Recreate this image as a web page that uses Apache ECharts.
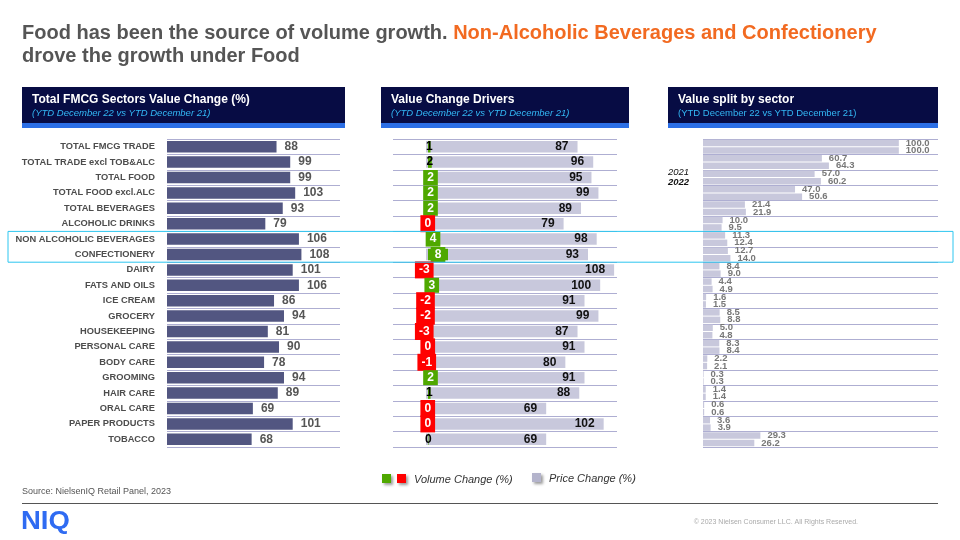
<!DOCTYPE html>
<html><head><meta charset="utf-8">
<script src="https://cdn.jsdelivr.net/npm/echarts@6/dist/echarts.min.js"></script>
<style>html,body{margin:0;padding:0;background:#fff}#c{width:960px;height:540px}</style>
</head><body><div id="c"></div>
<script>
const categories = ['TOTAL FMCG TRADE','TOTAL TRADE excl TOB&ALC','TOTAL FOOD','TOTAL FOOD excl.ALC','TOTAL BEVERAGES','ALCOHOLIC DRINKS','NON ALCOHOLIC BEVERAGES','CONFECTIONERY','DAIRY','FATS AND OILS','ICE CREAM','GROCERY','HOUSEKEEPING','PERSONAL CARE','BODY CARE','GROOMING','HAIR CARE','ORAL CARE','PAPER PRODUCTS','TOBACCO'];
const valueChange = [88,99,99,103,93,79,106,108,101,106,86,94,81,90,78,94,89,69,101,68];
const volumeChange = [1.0,1.5,2,2,2,-0.2,4,8,-3,3,-2,-2,-3,-0.2,-1,2,1,-0.2,-0.2,0.2];
const priceChange = [87,96,95,99,89,79,98,93,108,100,91,99,87,91,80,91,88,69,102,69];
const years = ['2021','2022'];
const split2021 = [100.0,60.7,57.0,47.0,21.4,10.0,11.3,12.7,8.4,4.4,1.6,8.5,5.0,8.3,2.2,0.3,1.4,0.6,3.6,29.3];
const split2022 = [100.0,64.3,60.2,50.6,21.9,9.5,12.4,14.0,9.0,4.9,1.5,8.8,4.8,8.4,2.1,0.3,1.4,0.6,3.9,26.2];
const highlightRows = ['NON ALCOHOLIC BEVERAGES','CONFECTIONERY'];

const FF = '"Liberation Sans", Arial, sans-serif';
const GREEN = '#4fa800', RED = '#ff0000', LAV = '#c8c8dc', NAVY = '#525681', GRID = '#aeaed2';
const chart = echarts.init(document.getElementById('c'), null, {renderer:'canvas'});

const TOP = 139, H = 308;
function catAxis(grid, showLabels, split) {
  return {
    type:'category', gridIndex:grid, data:categories, inverse:true,
    axisLine:{show:false}, axisTick:{show:false},
    axisLabel: showLabels ? {show:true, interval:0, margin:12, fontSize:9.3, fontWeight:'bold', color:'#4d4d4d', fontFamily:FF} : {show:false},
    splitLine:{show:split, interval:0, lineStyle:{color:GRID, width:1}}
  };
}

function header(x, w, t1, t2, italic) {
  return [
    {type:'rect', shape:{x:x, y:87, width:w, height:37}, style:{fill:'#070c44'}},
    {type:'rect', shape:{x:x, y:123, width:w, height:5}, style:{fill:'#2c6fe6'}},
    {type:'text', x:x+10, y:94, style:{text:t1, fill:'#fff', font:'bold 12px '+FF}},
    {type:'text', x:x+10, y:108, style:{text:t2, fill:'#33b8f5', font:(italic?'italic ':'')+'9.5px '+FF}}
  ];
}

const graphics = [].concat(
  header(22, 323, 'Total FMCG Sectors Value Change (%)', '(YTD December 22 vs YTD December 21)', true),
  header(381, 248, 'Value Change Drivers', '(YTD December 22 vs YTD December 21)', true),
  header(668, 270, 'Value split by sector', '(YTD December 22 vs YTD December 21)', false),
  [
    {type:'text', x:668, y:167, style:{text:years[0], fill:'#111', font:'italic 9.5px '+FF}},
    {type:'text', x:668, y:177, style:{text:years[1], fill:'#111', font:'italic bold 9.5px '+FF}},
    {type:'rect', shape:{x:382, y:474, width:9, height:9}, style:{fill:GREEN, shadowBlur:3, shadowOffsetX:2, shadowOffsetY:2, shadowColor:'rgba(0,0,0,0.4)'}},
    {type:'rect', shape:{x:397, y:474, width:9, height:9}, style:{fill:RED, shadowBlur:3, shadowOffsetX:2, shadowOffsetY:2, shadowColor:'rgba(0,0,0,0.4)'}},
    {type:'text', x:414, y:474, style:{text:'Volume Change (%)', fill:'#333', font:'italic 11px '+FF}},
    {type:'rect', shape:{x:532, y:473, width:9, height:9}, style:{fill:'#b4b4cc', shadowBlur:3, shadowOffsetX:2, shadowOffsetY:2, shadowColor:'rgba(0,0,0,0.4)'}},
    {type:'text', x:549, y:473, style:{text:'Price Change (%)', fill:'#333', font:'italic 11px '+FF}},
    {type:'text', x:22, y:487, style:{text:'Source: NielsenIQ Retail Panel, 2023', fill:'#555', font:'9px '+FF}},
    {type:'rect', shape:{x:22, y:503, width:916, height:1}, style:{fill:'#555'}},
    {type:'text', x:21, y:510, style:{text:'NIQ', fill:'#2f6bf2', font:'900 25px '+FF}, scaleX:1.1},
    {type:'text', x:858, y:519, style:{text:'© 2023 Nielsen Consumer LLC. All Rights Reserved.', fill:'#aaa', font:'7px '+FF, align:'right'}}
  ]
);

const option = {
  animation:false,
  textStyle:{fontFamily:FF},
  title:{
    left:22, top:22, padding:0,
    text:'{a|Food has been the source of volume growth. }{b|Non-Alcoholic Beverages and Confectionery}\n{a|drove the growth under Food}',
    textStyle:{rich:{
      a:{fontSize:20, fontWeight:'bold', color:'#555', fontFamily:FF, lineHeight:23},
      b:{fontSize:20, fontWeight:'bold', color:'#f26a21', fontFamily:FF, lineHeight:23}
    }}
  },
  grid:[
    {left:167, top:TOP, width:173, height:H},
    {left:393, top:TOP, width:224, height:H},
    {left:426, top:TOP, width:191.6, height:H},
    {left:703, top:TOP, width:235, height:H}
  ],
  xAxis:[
    {type:'value', gridIndex:0, min:0, max:139, show:false},
    {type:'value', gridIndex:1, min:-14, max:75.6, show:false},
    {type:'value', gridIndex:2, min:0, max:110, show:false},
    {type:'value', gridIndex:3, min:0, max:120, show:false}
  ],
  yAxis:[catAxis(0,true,true), catAxis(1,false,true), catAxis(2,false,false), catAxis(3,false,true)],
  series:[
    {type:'bar', xAxisIndex:0, yAxisIndex:0, data:valueChange, barWidth:11.5, itemStyle:{color:NAVY},
      label:{show:true, position:'right', distance:8, color:'#555', fontSize:12, fontWeight:'bold', fontFamily:FF}},
    {type:'bar', xAxisIndex:2, yAxisIndex:2, data:priceChange, barWidth:11.5, z:2, itemStyle:{color:LAV},
      label:{show:true, position:'insideRight', distance:9, color:'#111', fontSize:12, fontWeight:'bold', fontFamily:FF}},
    {type:'bar', xAxisIndex:1, yAxisIndex:1, barWidth:11.5, z:5,
      data:volumeChange.map(v => {
        const boxed = v < 0 || v >= 1.8;
        const col = v < 0 ? RED : GREEN;
        return {value:v, itemStyle:{color:col},
          label: boxed ? {color:'#fff', backgroundColor:col, padding: v < 0 ? [2,4] : [1,4], lineHeight:13} : {color:'#000'}};
      }),
      label:{show:true, position:'inside', fontSize:12, fontWeight:'bold', fontFamily:FF,
        formatter:p => String(Math.round(p.value))}},
    {type:'bar', name:years[0], xAxisIndex:3, yAxisIndex:3, data:split2021, barWidth:6.5, barGap:'15%', itemStyle:{color:LAV},
      label:{show:true, position:'right', distance:7, color:'#777', fontSize:9.5, fontWeight:'bold', fontFamily:FF, formatter:p => p.value.toFixed(1)}},
    {type:'bar', name:years[1], xAxisIndex:3, yAxisIndex:3, data:split2022, barWidth:6.5, barGap:'15%', itemStyle:{color:LAV},
      label:{show:true, position:'right', distance:7, color:'#777', fontSize:9.5, fontWeight:'bold', fontFamily:FF, formatter:p => p.value.toFixed(1)}}
  ],
  graphic:graphics
};
chart.setOption(option);

// highlight box around the featured rows, derived from the category axis
const c0 = chart.convertToPixel({gridIndex:0}, [0, highlightRows[0]])[1];
const c1 = chart.convertToPixel({gridIndex:0}, [0, highlightRows[1]])[1];
const band = c1 - c0;
chart.setOption({graphic: graphics.concat([
  {type:'rect', shape:{x:8, y:c0 - band/2, width:945, height:band*2}, style:{fill:'none', stroke:'#2cc6f0', lineWidth:1}, z:100}
])});
</script></body></html>
